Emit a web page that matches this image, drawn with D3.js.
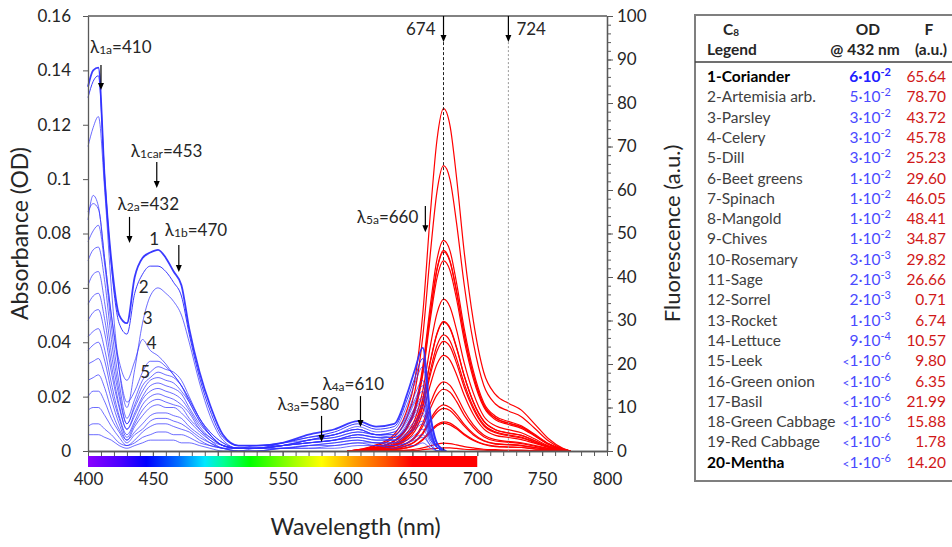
<!DOCTYPE html>
<html>
<head>
<meta charset="utf-8">
<script src="https://cdn.jsdelivr.net/npm/d3@7"></script>
<style>
  body { margin: 0; background: #fff; }
  text { font-family: Lato, "Open Sans", sans-serif; fill: #262626; }
</style>
</head>
<body>
<svg id="chart" width="952" height="547"></svg>
<script>
// ===================== DATA =====================
// Absorbance spectra (OD), all sampled on the same wavelength grid
const absWl = [400,404,408,413,418,424,430,436,442,448,454,460,466,472,478,486,494,504,516,530,550,570,590,608,622,636,646,652,658,664,670,676];
const absCurves = [
  [.134,.140,.141,.099,.070,.050,.047,.064,.071,.073,.074,.071,.066,.061,.045,.029,.017,.006,.002,.002,.003,.006,.008,.011,.009,.010,.021,.030,.038,.013,.002,.000],
  [.130,.136,.138,.100,.068,.047,.043,.058,.065,.068,.068,.066,.062,.057,.043,.027,.015,.005,.002,.002,.003,.005,.007,.010,.008,.009,.019,.027,.034,.012,.002,.000],
  [.112,.119,.123,.095,.060,.030,.016,.030,.047,.057,.060,.058,.055,.050,.040,.025,.013,.004,.001,.001,.003,.005,.006,.009,.007,.008,.017,.025,.031,.011,.002,.000],
  [.088,.091,.089,.070,.050,.033,.026,.033,.041,.037,.035,.032,.028,.024,.018,.011,.006,.002,.001,.001,.002,.004,.006,.008,.006,.007,.014,.021,.026,.009,.002,.000],
  [.085,.094,.090,.070,.050,.030,.018,.022,.029,.033,.033,.031,.028,.024,.019,.012,.007,.003,.001,.001,.002,.004,.006,.008,.006,.007,.013,.019,.024,.008,.001,.000],
  [.077,.081,.083,.068,.046,.025,.012,.019,.026,.029,.031,.030,.029,.026,.020,.012,.007,.003,.001,.001,.002,.004,.005,.007,.006,.006,.012,.018,.022,.008,.001,.000],
  [.070,.074,.075,.062,.041,.022,.010,.017,.024,.027,.029,.028,.027,.024,.019,.012,.006,.002,.001,.001,.003,.004,.006,.008,.006,.006,.011,.016,.020,.007,.001,.000],
  [.061,.065,.066,.054,.036,.020,.010,.016,.022,.026,.027,.026,.025,.022,.018,.011,.006,.002,.001,.001,.002,.003,.004,.006,.005,.005,.010,.015,.019,.007,.001,.000],
  [.054,.057,.058,.048,.032,.017,.008,.014,.020,.024,.025,.024,.023,.021,.016,.010,.006,.002,.001,.002,.002,.004,.005,.007,.006,.005,.009,.014,.017,.006,.001,.000],
  [.048,.051,.052,.043,.029,.016,.008,.013,.019,.022,.023,.022,.021,.019,.015,.009,.005,.002,.001,.001,.002,.003,.004,.006,.005,.005,.009,.013,.016,.006,.001,.000],
  [.042,.044,.045,.037,.025,.013,.006,.011,.017,.020,.021,.020,.019,.017,.014,.008,.005,.002,.001,.001,.002,.003,.004,.005,.004,.004,.008,.011,.014,.005,.001,.000],
  [.037,.039,.040,.033,.022,.012,.005,.010,.015,.018,.019,.018,.017,.016,.012,.008,.004,.002,.001,.001,.002,.003,.004,.006,.005,.004,.007,.010,.013,.005,.001,.000],
  [.032,.033,.034,.028,.019,.010,.004,.009,.013,.016,.017,.016,.016,.014,.011,.007,.004,.001,.001,.001,.002,.003,.004,.005,.004,.004,.006,.009,.011,.004,.001,.000],
  [.026,.027,.028,.023,.015,.008,.004,.007,.010,.013,.014,.014,.013,.012,.009,.006,.003,.001,.001,.001,.001,.002,.003,.004,.003,.003,.006,.008,.010,.004,.001,.000],
  [.020,.022,.022,.018,.012,.007,.003,.006,.008,.011,.012,.012,.011,.010,.008,.005,.003,.001,.000,.001,.001,.002,.003,.004,.003,.003,.004,.006,.008,.003,.000,.000],
  [.015,.016,.016,.013,.009,.005,.002,.004,.007,.009,.010,.010,.009,.008,.007,.004,.002,.001,.000,.000,.001,.002,.002,.003,.003,.002,.003,.005,.006,.002,.000,.000],
  [.009,.010,.010,.008,.006,.003,.002,.003,.005,.006,.007,.007,.006,.006,.005,.003,.002,.001,.000,.000,.001,.001,.002,.003,.002,.002,.003,.004,.005,.002,.000,.000],
  [.006,.006,.006,.005,.004,.002,.001,.002,.003,.004,.004,.004,.004,.003,.003,.002,.001,.000,.000,.000,.001,.001,.001,.002,.002,.001,.002,.002,.003,.001,.000,.000]
];

// Fluorescence spectra (a.u.), one per sample, in legend order
const fluoWl = [600,620,635,645,652,658,664,669,674,679,684,690,697,705,714,724,734,744,755,766,772];
const fluoCurves = [
  [0,1.0,3.0,7.2,13.8,26.3,45.9,59.7,65.6,62.4,52.5,38.1,24.9,15.1,10.8,9.2,7.9,5.3,2.3,0.5,0],
  [0,1.2,3.5,8.7,16.5,31.5,55.1,71.6,78.7,74.8,63.0,45.6,29.9,18.1,13.0,11.0,9.4,6.3,2.8,0.6,0],
  [0,0.7,2.0,4.8,9.2,17.5,30.6,39.8,43.7,41.5,35.0,25.4,16.6,10.1,7.2,6.1,5.2,3.5,1.5,0.3,0],
  [0,0.7,2.1,5.0,9.6,18.3,32.0,41.7,45.8,43.5,36.6,26.6,17.4,10.5,7.6,6.4,5.5,3.7,1.6,0.4,0],
  [0,0.4,1.1,2.8,5.3,10.1,17.7,23.0,25.2,24.0,20.2,14.6,9.6,5.8,4.2,3.5,3.0,2.0,0.9,0.2,0],
  [0,0.4,1.3,3.3,6.2,11.8,20.7,26.9,29.6,28.1,23.7,17.2,11.2,6.8,4.9,4.1,3.6,2.4,1.0,0.2,0],
  [0,0.7,2.1,5.1,9.7,18.4,32.2,41.9,46.1,43.7,36.8,26.7,17.5,10.6,7.6,6.4,5.5,3.7,1.6,0.4,0],
  [0,0.7,2.2,5.3,10.2,19.4,33.9,44.1,48.4,46.0,38.7,28.1,18.4,11.1,8.0,6.8,5.8,3.9,1.7,0.4,0],
  [0,0.5,1.6,3.8,7.3,13.9,24.4,31.7,34.9,33.1,27.9,20.2,13.3,8.0,5.8,4.9,4.2,2.8,1.2,0.3,0],
  [0,0.4,1.3,3.3,6.3,11.9,20.9,27.1,29.8,28.3,23.9,17.3,11.3,6.9,4.9,4.2,3.6,2.4,1.0,0.2,0],
  [0,0.4,1.2,2.9,5.6,10.7,18.7,24.3,26.7,25.3,21.3,15.5,10.1,6.1,4.4,3.7,3.2,2.1,0.9,0.2,0],
  [0,0,0,0.1,0.1,0.3,0.5,0.6,0.7,0.7,0.6,0.4,0.3,0.2,0.1,0.1,0.1,0.1,0,0,0],
  [0,0.1,0.3,0.7,1.4,2.7,4.7,6.1,6.7,6.4,5.4,3.9,2.6,1.6,1.1,0.9,0.8,0.5,0.2,0.1,0],
  [0,0.2,0.5,1.2,2.2,4.2,7.4,9.6,10.6,10.0,8.5,6.1,4.0,2.4,1.7,1.5,1.3,0.8,0.4,0.1,0],
  [0,0.1,0.4,1.1,2.1,3.9,6.9,8.9,9.8,9.3,7.8,5.7,3.7,2.3,1.6,1.4,1.2,0.8,0.3,0.1,0],
  [0,0.1,0.3,0.7,1.3,2.5,4.4,5.8,6.4,6.0,5.1,3.7,2.4,1.5,1.0,0.9,0.8,0.5,0.2,0.1,0],
  [0,0.3,1.0,2.4,4.6,8.8,15.4,20.0,22.0,20.9,17.6,12.8,8.4,5.1,3.6,3.1,2.6,1.8,0.8,0.2,0],
  [0,0.2,0.7,1.7,3.3,6.4,11.1,14.5,15.9,15.1,12.7,9.2,6.0,3.7,2.6,2.2,1.9,1.3,0.6,0.1,0],
  [0,0,0.1,0.2,0.4,0.7,1.2,1.6,1.8,1.7,1.4,1.0,0.7,0.4,0.3,0.2,0.2,0.1,0.1,0,0],
  [0,0.2,0.6,1.6,3.0,5.7,9.9,12.9,14.2,13.5,11.4,8.2,5.4,3.3,2.3,2.0,1.7,1.1,0.5,0.1,0]
];

// Legend table
const sampleNames = ["1-Coriander","2-Artemisia arb.","3-Parsley","4-Celery","5-Dill","6-Beet greens",
  "7-Spinach","8-Mangold","9-Chives","10-Rosemary","11-Sage","12-Sorrel","13-Rocket","14-Lettuce",
  "15-Leek","16-Green onion","17-Basil","18-Green Cabbage","19-Red Cabbage","20-Mentha"];
const odMantissa = ["6","5","3","3","3","1","1","1","1","3","2","2","1","9","1","1","1","1","1","1"];
const odExponent = ["-2","-2","-2","-2","-2","-2","-2","-2","-2","-3","-3","-3","-3","-4","-6","-6","-6","-6","-6","-6"];
const odBelow    = [0,0,0,0,0,0,0,0,0,0,0,0,0,0,1,1,1,1,1,1];
const fPeak = [65.64,78.70,43.72,45.78,25.23,29.60,46.05,48.41,34.87,29.82,26.66,0.71,6.74,10.57,9.80,6.35,21.99,15.88,1.78,14.20];
const boldRows = [0, 19];

// Axes ticks
const xMajor = d3.range(400, 801, 50);
const xMinor = d3.range(400, 801, 10);
const yAbsTicks = d3.range(0, 0.161, 0.02);
const yFlMajor = d3.range(0, 101, 10);
const yFlMinor = d3.range(0, 101, 2);

// Band annotations: label subscript, wavelength, text after, arrow start/end (OD), text baseline (OD), text dx
const bandMarks = [
  { sub: "1a",   wl: 410, rest: "=410", from: 0.1420, to: 0.1328, ty: 0.1464, dx: -11, anchor: "start" },
  { sub: "1car", wl: 453, rest: "=453", from: 0.1063, to: 0.0967, ty: 0.1081, dx: -26, anchor: "start" },
  { sub: "2a",   wl: 432, rest: "=432", from: 0.0861, to: 0.0765, ty: 0.0886, dx: -12, anchor: "start" },
  { sub: "1b",   wl: 470, rest: "=470", from: 0.0758, to: 0.0658, ty: 0.0791, dx: -14, anchor: "start" },
  { sub: "3a",   wl: 580, rest: "=580", from: 0.0129, to: 0.0033, ty: 0.0151, dx: -44, anchor: "start" },
  { sub: "4a",   wl: 610, rest: "=610", from: 0.0202, to: 0.0088, ty: 0.0224, dx: -38, anchor: "start" },
  { sub: "5a",   wl: 660, rest: "=660", from: 0.0901, to: 0.0805, ty: 0.0839, dx: -7,  anchor: "end" }
];
// Emission peaks marked with dashed lines
const emPeaks = [674, 724];
// Curve number labels (wavelength, OD)
const curveLabels = [
  { n: "1", wl: 451, od: 0.0780 },
  { n: "2", wl: 443, od: 0.0603 },
  { n: "3", wl: 446, od: 0.0489 },
  { n: "4", wl: 449, od: 0.0397 },
  { n: "5", wl: 444, od: 0.0290 }
];
// Visible spectrum colour bar
const specStops = [[400,"#8a00ff"],[425,"#4a00ff"],[445,"#0000ff"],[470,"#0070ff"],[490,"#00e8ff"],
  [505,"#00ff90"],[525,"#00ff00"],[560,"#a8ff00"],[580,"#ffff00"],[605,"#ffa000"],[630,"#ff5000"],[650,"#ff0000"],[700,"#ff0000"]];

// ===================== SCALES =====================
const svg = d3.select("#chart");
const plot = { left: 88, right: 607, top: 16, bottom: 451 };

const x     = d3.scaleLinear().domain([400, 800]).range([plot.left, plot.right]);
const yAbs  = d3.scaleLinear().domain([0, 0.16]).range([plot.bottom, plot.top]);
const yFl   = d3.scaleLinear().domain([0, 100]).range([plot.bottom, plot.top]);

const axisColor = "#595959";

// ===================== SPECTRUM BAR =====================
const grad = svg.append("defs").append("linearGradient")
  .attr("id", "spec").attr("gradientUnits", "userSpaceOnUse")
  .attr("x1", x(400)).attr("x2", x(700)).attr("y1", 0).attr("y2", 0);
grad.selectAll("stop").data(specStops).join("stop")
  .attr("offset", d => (d[0] - 400) / 300)
  .attr("stop-color", d => d[1]);

svg.append("rect")
  .attr("x", x(400)).attr("y", plot.bottom + 5)
  .attr("width", x(700) - x(400)).attr("height", 11)
  .attr("fill", "url(#spec)");

// ===================== CURVES =====================
const fluoLine = d3.line()
  .x((d, i) => x(fluoWl[i]))
  .y(d => yFl(d))
  .curve(d3.curveMonotoneX);

svg.append("g").selectAll("path")
  .data(fluoCurves)
  .join("path")
  .attr("d", fluoLine)
  .attr("fill", "none")
  .attr("stroke", "#ff0000")
  .attr("stroke-width", 1.2);

const absLine = d3.line()
  .x((d, i) => x(absWl[i]))
  .y(d => yAbs(d))
  .curve(d3.curveMonotoneX);

svg.append("g").selectAll("path")
  .data(absCurves)
  .join("path")
  .attr("d", absLine)
  .attr("fill", "none")
  .attr("stroke", "#2f2fff")
  .attr("stroke-opacity", (d, i) => i < 2 ? 0.95 : 0.7)
  .attr("stroke-width", (d, i) => i === 0 ? 1.8 : 1);

// ===================== AXES =====================
function styleAxis(g) {
  g.selectAll(".domain").attr("stroke", axisColor).attr("stroke-width", 1.3);
  g.selectAll(".tick line").attr("stroke", axisColor);
  g.selectAll(".tick text").attr("fill", "#262626").style("font-size", "17px")
    .style("font-family", "Lato, 'Open Sans', sans-serif");
}

// frame top
svg.append("line")
  .attr("x1", plot.left).attr("x2", plot.right)
  .attr("y1", plot.top).attr("y2", plot.top)
  .attr("stroke", axisColor).attr("stroke-width", 1.3);

// left
svg.append("g")
  .attr("transform", `translate(${plot.left},0)`)
  .call(d3.axisLeft(yAbs).tickValues(yAbsTicks).tickSize(5).tickSizeOuter(0).tickPadding(12)
    .tickFormat(d => String(+d.toFixed(2))))
  .call(styleAxis);

// right
svg.append("g")
  .attr("transform", `translate(${plot.right},0)`)
  .call(d3.axisRight(yFl).tickValues(yFlMinor).tickSize(4).tickSizeOuter(0).tickFormat(""))
  .call(styleAxis);
svg.append("g")
  .attr("transform", `translate(${plot.right},0)`)
  .call(d3.axisRight(yFl).tickValues(yFlMajor).tickSize(6).tickSizeOuter(0).tickPadding(4))
  .call(styleAxis);

// bottom
svg.append("g")
  .attr("transform", `translate(0,${plot.bottom})`)
  .call(d3.axisBottom(x).tickValues(xMinor).tickSize(5).tickSizeOuter(0).tickFormat(""))
  .call(styleAxis);
svg.append("g")
  .attr("transform", `translate(0,${plot.bottom})`)
  .call(d3.axisBottom(x).tickValues(xMajor).tickSize(5).tickSizeOuter(0).tickPadding(17))
  .call(styleAxis);

// axis titles
svg.append("text")
  .attr("transform", `translate(20,${(plot.top + plot.bottom) / 2}) rotate(-90)`)
  .attr("text-anchor", "middle").attr("dy", "0.35em")
  .style("font-size", "23px").text("Absorbance (OD)");

svg.append("text")
  .attr("transform", `translate(672,${(plot.top + plot.bottom) / 2}) rotate(-90)`)
  .attr("text-anchor", "middle").attr("dy", "0.35em")
  .style("font-size", "22px").text("Fluorescence (a.u.)");

svg.append("text")
  .attr("x", (plot.left + plot.right) / 2 + 8).attr("y", 535)
  .attr("text-anchor", "middle")
  .style("font-size", "23px").text("Wavelength (nm)");

// ===================== ANNOTATIONS =====================
function arrow(g, xp, y0, y1, color) {
  g.append("line")
    .attr("x1", xp).attr("x2", xp).attr("y1", y0).attr("y2", y1 - 5)
    .attr("stroke", color).attr("stroke-width", 1.2);
  g.append("path")
    .attr("d", `M${xp - 3},${y1 - 7}L${xp + 3},${y1 - 7}L${xp},${y1}Z`)
    .attr("fill", color);
}

const ann = svg.append("g");
bandMarks.forEach(m => {
  const xp = x(m.wl);
  arrow(ann, xp, yAbs(m.from), yAbs(m.to), "#000");
  const t = ann.append("text")
    .attr("x", xp + m.dx).attr("y", yAbs(m.ty))
    .attr("text-anchor", m.anchor)
    .style("font-size", "17px");
  t.append("tspan").text("λ");
  t.append("tspan").attr("dy", 1).style("font-size", "12px").text(m.sub);
  t.append("tspan").attr("dy", -1).text(m.rest);
});

emPeaks.forEach((wl, i) => {
  const xp = x(wl);
  arrow(ann, xp, yFl(100), yFl(94), "#000");
  ann.append("line")
    .attr("x1", xp).attr("x2", xp).attr("y1", yFl(94)).attr("y2", yFl(0))
    .attr("stroke", i === 0 ? "#222" : "#999")
    .attr("stroke-width", 1)
    .attr("stroke-dasharray", i === 0 ? "3,2" : "2,2");
  ann.append("text")
    .attr("x", i === 0 ? xp - 8 : xp + 8).attr("y", yFl(95.6))
    .attr("text-anchor", i === 0 ? "end" : "start")
    .style("font-size", "17px").text(wl);
});

ann.selectAll(".cl").data(curveLabels).join("text")
  .attr("class", "cl")
  .attr("x", d => x(d.wl)).attr("y", d => yAbs(d.od))
  .attr("dy", "0.35em").attr("text-anchor", "middle")
  .style("font-size", "17px").text(d => d.n);

// ===================== LEGEND TABLE =====================
const tbl = { left: 695, top: 15, header: 62, bottom: 481, right: 952 };
const rowY0 = 77, rowStep = 20.3;
const colName = 707, colOd = 891, colF = 946;

const table = svg.append("g");
table.append("path")
  .attr("d", `M${tbl.right},${tbl.top}H${tbl.left}V${tbl.bottom}H${tbl.right}`)
  .attr("fill", "none").attr("stroke", "#7f7f7f").attr("stroke-width", 2);
table.append("line")
  .attr("x1", tbl.left).attr("x2", tbl.right).attr("y1", tbl.header).attr("y2", tbl.header)
  .attr("stroke", "#404040").attr("stroke-width", 1.5);

const hdr = table.append("g").style("font-size", "15.5px").style("font-weight", "bold");
const c8 = hdr.append("text").attr("x", 731).attr("y", 35).attr("text-anchor", "middle");
c8.append("tspan").text("C");
c8.append("tspan").attr("dy", 1).style("font-size", "10px").text("8");
hdr.append("text").attr("x", colName).attr("y", 55).text("Legend");
hdr.append("text").attr("x", 868).attr("y", 35).attr("text-anchor", "middle").text("OD");
hdr.append("text").attr("x", 865).attr("y", 55).attr("text-anchor", "middle").text("@ 432 nm");
hdr.append("text").attr("x", 929).attr("y", 35).attr("text-anchor", "middle").text("F");
hdr.append("text").attr("x", 931).attr("y", 55).attr("text-anchor", "middle").text("(a.u.)");

const rows = table.selectAll(".row")
  .data(sampleNames)
  .join("g")
  .attr("class", "row")
  .attr("transform", (d, i) => `translate(0,${rowY0 + i * rowStep + 5})`)
  .style("font-size", "15.5px")
  .style("font-weight", (d, i) => boldRows.includes(i) ? "bold" : "normal");

rows.append("text")
  .attr("x", colName)
  .style("fill", (d, i) => boldRows.includes(i) ? "#000" : "#404040")
  .text(d => d);

const odText = rows.append("text")
  .attr("x", colOd).attr("text-anchor", "end")
  .style("fill", (d, i) => i === 0 ? "#2020ff" : "#4a4aff")
  .style("font-weight", (d, i) => i === 0 ? "bold" : "normal");
odText.each(function(d, i) {
  const t = d3.select(this);
  if (odBelow[i]) t.append("tspan").style("font-size", "12px").text("<");
  t.append("tspan").text(odMantissa[i] + "·10");
  t.append("tspan").attr("dy", -6).style("font-size", "11px").text(odExponent[i]);
});

rows.append("text")
  .attr("x", colF).attr("text-anchor", "end")
  .style("fill", "#d01818")
  .style("font-weight", "normal")
  .text((d, i) => fPeak[i].toFixed(2));
</script>
</body>
</html>
